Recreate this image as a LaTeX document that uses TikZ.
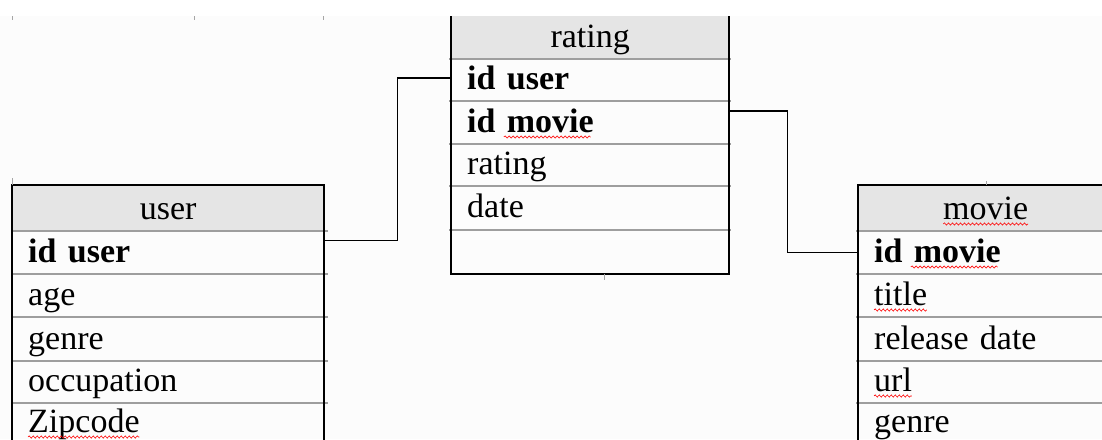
\documentclass[tikz,border=0pt]{standalone}
\usepackage{fontspec}
\setmainfont{Liberation Serif}
\usetikzlibrary{decorations.pathmorphing}

\newcommand\cellfont{\fontsize{34}{40}\selectfont}
% word widths for the spelling marks, measured once
\newlength\wZip \newlength\wIdB \newlength\wMovieB
\newlength\wMovie \newlength\wTitle \newlength\wUrl

\tikzset{
  cell/.style={anchor=base west, inner xsep=16pt, inner ysep=0pt,
    text height=31pt, text depth=12pt, align=left, font=\cellfont},
  headcell/.style={cell, align=center},
  ucol/.style={text width=280pt},
  rcol/.style={text width=246pt},
  mcol/.style={text width=223pt},
  frame/.style={line width=1.5pt, black},
  sep/.style={line width=1.2pt, black!38},
  headfill/.style={fill=black!10},
  link/.style={line width=1.5pt, black},
  tick/.style={line width=1pt, black!35},
  spell/.style={red, line width=0.6pt, decorate,
    decoration={snake, segment length=4pt, amplitude=1.1pt}}
}

\begin{document}
\settowidth\wZip{\cellfont Zipcode}%
\settowidth\wIdB{\cellfont\bfseries id\ }%
\settowidth\wMovieB{\cellfont\bfseries movie}%
\settowidth\wMovie{\cellfont movie}%
\settowidth\wTitle{\cellfont title}%
\settowidth\wUrl{\cellfont url}%
\begin{tikzpicture}[x=1pt,y=-1pt]
\useasboundingbox (0,0) rectangle (1102,439);
\fill[white] (0,0) rectangle (1102,439);
\fill[black!1] (0,16) rectangle (1102,439);
\begin{scope}
\clip (0,0) rectangle (1102,439);

% header shading
\fill[headfill] (12,185) rectangle (324,231);
\fill[headfill] (451,16) rectangle (729,59);
\fill[headfill] (858,185) rectangle (1113,231);

% row separators
\foreach \y in {231,274,317,361,403} {
  \draw[sep] (12,\y) -- (328,\y);
  \draw[sep] (856,\y) -- (1113,\y);
}
\foreach \y in {59,101,144,186,230} {
  \draw[sep] (449,\y) -- (731,\y);
}

% outer frames
\draw[frame] (12,446) |- (324,185) -- (324,446);
\draw[frame] (451,16) |- (729,274) -- (729,16);
\draw[frame] (858,446) |- (1113,185) -- (1113,446);

% small grid ticks
\draw[tick] (12,16) -- (12,20);
\draw[tick] (194,16) -- (194,20);
\draw[tick] (323,16) -- (323,20);
\draw[tick] (12,178) -- (12,185);
\draw[tick] (604,274) -- (604,280);
\draw[tick] (986,181) -- (986,185);

% user table
\node[headcell, ucol] (uh) at (12,219) {user};
\node[cell, ucol] (u1) at (12,262) {\textbf{id user}};
\node[cell, ucol] (u2) at (12,305) {age};
\node[cell, ucol] (u3) at (12,349) {genre};
\node[cell, ucol] (u4) at (12,391) {occupation};
\node[cell, ucol] (u5) at (12,432) {Zipcode};

% rating table
\node[headcell, rcol] (rh) at (451,47) {rating};
\node[cell, rcol] (r1) at (451,89) {\textbf{id user}};
\node[cell, rcol] (r2) at (451,132) {\textbf{id movie}};
\node[cell, rcol] (r3) at (451,174) {rating};
\node[cell, rcol] (r4) at (451,217) {date};

% movie table
\node[headcell, mcol] (mh) at (858,219) {movie};
\node[cell, mcol] (m1) at (858,262) {\textbf{id movie}};
\node[cell, mcol] (m2) at (858,305) {title};
\node[cell, mcol] (m3) at (858,349) {release date};
\node[cell, mcol] (m4) at (858,391) {url};
\node[cell, mcol] (m5) at (858,432) {genre};

% spelling marks under words
\draw[spell] ([shift={(16pt,-5pt)}]u5.base west) -- ++(\wZip,0pt);
\draw[spell] ([shift={({16pt+\wIdB},-5pt)}]r2.base west) -- ++(\wMovieB,0pt);
\draw[spell] ([shift={({-0.5\wMovie},-5pt)}]mh.base) -- ++(\wMovie,0pt);
\draw[spell] ([shift={({16pt+\wIdB},-5pt)}]m1.base west) -- ++(\wMovieB,0pt);
\draw[spell] ([shift={(16pt,-5pt)}]m2.base west) -- ++(\wTitle,0pt);
\draw[spell] ([shift={(16pt,-5pt)}]m4.base west) -- ++(\wUrl,0pt);

% relations
\draw[link] ([yshift=12pt]u1.east) -- ++(73,0) |- ([yshift=1.5pt]r1.west);
\draw[link] ([yshift=11.5pt]r2.east) -- ++(58,0) |- (m1.west);
\end{scope}
\end{tikzpicture}
\end{document}
